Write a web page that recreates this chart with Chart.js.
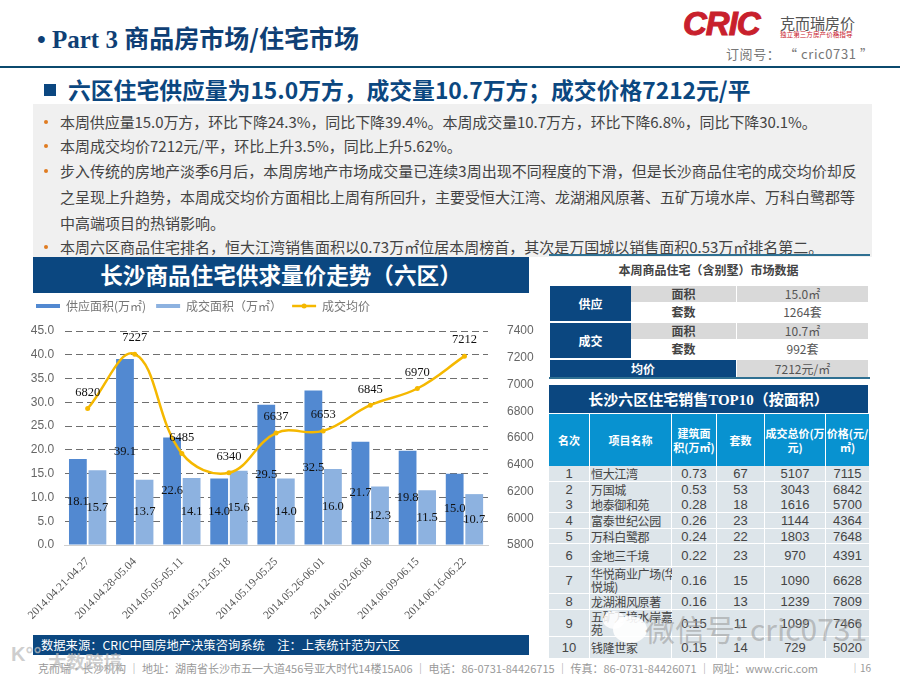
<!DOCTYPE html>
<html><head><meta charset="utf-8">
<script src="https://cdn.jsdelivr.net/npm/chart.js@4"></script>
<style>
html,body{margin:0;padding:0;background:#fff;width:900px;height:675px;overflow:hidden;font-family:"Noto Sans CJK SC","Noto Sans",sans-serif}
.a{position:absolute;white-space:nowrap}
#cw{position:absolute;left:26px;top:290px;width:514px;height:340px}
</style></head><body>
<div class="a" style="left:37px;top:19px;font:bold 25px 'Liberation Serif','Noto Sans CJK SC';color:#0f3f75">• Part 3 <span style="font-family:'Noto Sans CJK SC'">商品房市场/住宅市场</span></div>
<div class="a" style="left:683px;top:5px;font:italic 900 33px 'Liberation Sans';color:#c8202c;letter-spacing:-1px;-webkit-text-stroke:1px #c8202c">CRIC</div>
<div class="a" style="left:780px;top:12px;font:15px 'Noto Sans CJK SC';color:#555">克而瑞房价</div>
<div class="a" style="left:780px;top:29px;font:6.6px 'Noto Sans CJK SC';color:#c8202c">独立第三方房产价格指导</div>
<div class="a" style="left:726px;top:44px;font:13px 'Noto Sans CJK SC';color:#777;letter-spacing:.6px">订阅号： “ cric0731 ”</div>
<div class="a" style="left:0;top:66px;width:900px;height:2px;background:#0b4a6e"></div>
<div class="a" style="left:44px;top:84px;width:12px;height:12px;background:#0b4780"></div>
<div class="a" style="left:68px;top:73px;font:bold 22.8px 'Noto Sans CJK SC';color:#0b4780">六区住宅供应量为15.0万方，成交量10.7万方；成交价格7212元/平</div>
<div class="a" style="left:33px;top:104px;width:839px;height:153px;background:#f0f0f0"></div>
<div id="bul"></div>
<div class="a" style="left:33px;top:257px;width:496px;height:36px;background:#0b4780;color:#fff;font:bold 22.6px/36px 'Noto Sans CJK SC';text-align:center">长沙商品住宅供求量价走势（六区）</div>
<div class="a" style="left:549px;top:254px;width:321px;height:2px;background:#2f7092"></div>
<div id="cw"><canvas id="c" width="514" height="340"></canvas></div>
<div class="a" style="left:33px;top:635px;width:496px;height:20px;background:#0b4780;color:#fff;font:12.3px/20px 'Noto Sans CJK SC';text-indent:8px">数据来源：CRIC中国房地产决策咨询系统　注：上表统计范为六区</div>
<div class="a" style="left:549px;top:261px;width:319px;text-align:center;font:bold 12px 'Noto Sans CJK SC';color:#444">本周商品住宅（含别墅）市场数据</div>
<div id="t1"></div>
<div class="a" style="left:549px;top:377px;width:321px;height:2px;background:#2f7092"></div>
<div class="a" style="left:549px;top:385px;width:319px;height:28px;background:#0b4780;color:#fff;font:bold 15px/28px 'Noto Sans CJK SC';text-align:center">长沙六区住宅销售<span style="font-family:'Liberation Serif'">TOP10</span>（按面积）</div>
<div id="t2"></div>
<div class="a" style="left:38px;top:660px;font:11px 'Noto Sans CJK SC';color:#999">克而瑞·长沙机构 ｜ 地址：湖南省长沙市五一大道456号亚大时代14楼15A06 ｜ 电话：86-0731-84426715 ｜ 传真：86-0731-84426071 ｜ 网址：www.cric.com</div>
<div class="a" style="left:850px;top:660px;font:10px 'Noto Sans CJK SC';color:#999">｜16</div>
<div class="a" style="left:613px;top:616px;width:34px;height:27px;border-radius:50%;background:rgba(255,255,255,.9)"></div>
<div class="a" style="left:603px;top:611px;width:22px;height:18px;border-radius:50%;background:rgba(255,255,255,.85)"></div>
<div class="a" style="left:645px;top:606px;font:30px 'Noto Sans CJK SC';color:rgba(150,150,150,.55)">微信号: cric0731</div>
<div class="a" style="left:11px;top:643px;font:bold 20px 'Liberation Sans';color:rgba(190,190,190,.75)">K°°</div>
<div class="a" style="left:48px;top:648px;font:bold 18.5px 'Noto Sans CJK SC';color:rgba(185,185,185,.7)">大数跨境</div>
<script>
const categories=["2014.04.21-04.27","2014.04.28-05.04","2014.05.05-05.11","2014.05.12-05.18","2014.05.19-05.25","2014.05.26-06.01","2014.06.02-06.08","2014.06.09-06.15","2014.06.16-06.22"];
const supplyArea=[18.1,39.1,22.6,14.0,29.5,32.5,21.7,19.8,15.0];
const dealArea=[15.7,13.7,14.1,15.6,14.0,16.0,12.3,11.5,10.7];
const avgPrice=[6820,7227,6485,6340,6637,6653,6845,6970,7212];
const bullets=["本周供应量15.0万方，环比下降24.3%，同比下降39.4%。本周成交量10.7万方，环比下降6.8%，同比下降30.1%。","本周成交均价7212元/平，环比上升3.5%，同比上升5.62%。","步入传统的房地产淡季6月后，本周房地产市场成交量已连续3周出现不同程度的下滑，但是长沙商品住宅的成交均价却反","之呈现上升趋势，本周成交均价方面相比上周有所回升，主要受恒大江湾、龙湖湘风原著、五矿万境水岸、万科白鹭郡等","中高端项目的热销影响。","本周六区商品住宅排名，恒大江湾销售面积以0.73万㎡位居本周榜首，其次是万国城以销售面积0.53万㎡排名第二。"];
const bulletY=[122,146,171,197,223,247];
const bulletDot=[1,1,1,0,0,1];
document.getElementById('bul').innerHTML=bullets.map((t,i)=>`${bulletDot[i]?`<div class="a" style="left:44px;top:${bulletY[i]-2}px;width:4px;height:4px;border-radius:2px;background:#e07b20"></div>`:''}<div class="a" style="left:60px;top:${bulletY[i]-10}px;font:15px/20px 'Noto Sans CJK SC';color:#444;letter-spacing:${i==0?'-.08px':'0'}">${t}</div>`).join('');
const navy='#0b4780';
const t1Rows=[[286,16,"面积","15.0㎡",1],[303,18,"套数","1264套",0],[323,16,"面积","10.7㎡",1],[340,18,"套数","992套",0]];
let h='';
h+=`<div class="a" style="left:550px;top:286px;width:81px;height:35px;background:${navy};color:#fff;font:bold 12px/35px 'Noto Sans CJK SC';text-align:center">供应</div>`;
h+=`<div class="a" style="left:550px;top:323px;width:81px;height:35px;background:${navy};color:#fff;font:bold 12px/35px 'Noto Sans CJK SC';text-align:center">成交</div>`;
t1Rows.forEach(r=>{const bg=r[4]?'#d9d9d9':'#fff';
h+=`<div class="a" style="left:631px;top:${r[0]}px;width:105px;height:${r[1]}px;background:${bg};font:bold 12px/${r[1]}px 'Noto Sans CJK SC';color:#444;text-align:center">${r[2]}</div>`;
h+=`<div class="a" style="left:737px;top:${r[0]}px;width:131px;height:${r[1]}px;background:${bg};font:12px/${r[1]}px 'Noto Sans CJK SC';color:#555;text-align:center">${r[3]}</div>`;});
h+=`<div class="a" style="left:550px;top:360px;width:186px;height:17px;background:${navy};color:#fff;font:bold 12px/17px 'Noto Sans CJK SC';text-align:center">均价</div>`;
h+=`<div class="a" style="left:737px;top:360px;width:131px;height:17px;background:#d9d9d9;color:#555;font:12px/17px 'Noto Sans CJK SC';text-align:center">7212元/㎡</div>`;
document.getElementById('t1').innerHTML=h;
const colX=[549,590,672,717,765,826];const colW=[40,81,44,47,60,43];
const head=["名次","项目名称","建筑面<br>积(万㎡)","套数","成交总价(万<br>元)","价格(元/<br>㎡)"];
const rows=[["1","恒大江湾","0.73","67","5107","7115"],["2","万国城","0.53","53","3043","6842"],["3","地泰御和苑","0.28","18","1616","5700"],["4","富泰世纪公园","0.26","23","1144","4364"],["5","万科白鹭郡","0.24","22","1803","7648"],["6","金地三千境","0.22","23","970","4391"],["7","华悦商业广场(华<br>悦城)","0.16","15","1090","6628"],["8","龙湖湘风原著","0.16","13","1239","7809"],["9","五矿万境水岸嘉<br>苑","0.15","11","1099","7466"],["10","钱隆世家","0.15","14","729","5020"]];
const rowY=[466,482,497,513,529,544,567,594,610,637];const rowH=[15,15,15,15,14,22,26,15,26,21];
let g='';
head.forEach((t,c)=>{g+=`<div class="a" style="left:${colX[c]}px;top:414px;width:${colW[c]}px;height:52px;background:#0892d0;color:#fff;font:bold 11px/14px 'Noto Sans CJK SC';display:flex;align-items:center;justify-content:center;text-align:center">${t.indexOf('<br>')<0?t:`<span>${t}</span>`}</div>`});
rows.forEach((r,i)=>r.forEach((t,c)=>{const f=c==1?"12px/13px 'Noto Sans CJK SC';letter-spacing:-.35px":"13px/13px 'Liberation Sans'";
g+=`<div class="a" style="left:${colX[c]}px;top:${rowY[i]}px;width:${colW[c]}px;height:${rowH[i]}px;background:#dde5ea;color:#444;font:${f};display:flex;align-items:center;justify-content:${c==1?'flex-start':'center'};${c==1?'padding-left:1px;box-sizing:border-box;':''}"><span>${t}</span></div>`}));
document.getElementById('t2').innerHTML=g;

const valueLabels={id:'valueLabels',
 beforeLayout(ch){const lg=ch.legend;if(!lg._fixed){const f=lg.fit;lg.fit=function(){f.call(this);this.height=41;};lg._fixed=true;}},
 afterDatasetsDraw(ch){const x=ch.ctx;x.save();x.fillStyle='#111';x.font="12.5px 'Liberation Serif'";x.textAlign='center';x.textBaseline='middle';
 ch.data.datasets.forEach((d,i)=>{const m=ch.getDatasetMeta(i);m.data.forEach((el,j)=>{
  const v=d.data[j];
  if(d.type==='line'){x.fillText(String(v),el.x,el.y-16);}
  else{x.fillText(v.toFixed(1),el.x,(el.y+el.base)/2);}
 });});
 const hb=ch.legend.legendHitBoxes[2];
 if(hb){x.fillStyle='#f5b800';x.beginPath();x.arc(hb.left+12,hb.top+hb.height/2,2.5,0,Math.PI*2);x.fill();}
 x.restore();}};
new Chart(document.getElementById('c'),{
 data:{labels:categories,datasets:[
  {type:'line',label:'成交均价',data:avgPrice,yAxisID:'y1',borderColor:'#f5b800',backgroundColor:'#f5b800',borderWidth:2.5,tension:.4,pointRadius:2.5,pointBackgroundColor:'#f5b800',pointBorderWidth:0,order:0},
  {type:'bar',label:'供应面积(万㎡)',data:supplyArea,yAxisID:'y',backgroundColor:'#5289d1',categoryPercentage:.83,barPercentage:.91,order:2},
  {type:'bar',label:'成交面积（万㎡）',data:dealArea,yAxisID:'y',backgroundColor:'#8db2e0',categoryPercentage:.83,barPercentage:.91,order:2}
 ]},
 options:{responsive:false,animation:false,
  layout:{autoPadding:false,padding:0},
  plugins:{tooltip:{enabled:false},legend:{position:'top',align:'start',
    labels:{usePointStyle:true,pointStyleWidth:24,boxHeight:4,padding:10,color:'#777',font:{size:12,family:"'Noto Sans CJK SC'"},
     generateLabels(ch){const ds=ch.data.datasets;return [1,2,0].map(i=>({text:ds[i].label,datasetIndex:i,fillStyle:ds[i].backgroundColor,strokeStyle:i==0?ds[i].borderColor:ds[i].backgroundColor,lineWidth:i==0?2.5:0,pointStyle:i==0?'line':'rect',fontColor:'#777'}));}
   }}},
  scales:{
   x:{grid:{display:false},border:{color:'#d0d0d0'},ticks:{minRotation:45,maxRotation:45,color:'#555',font:{size:11.5,family:"'Liberation Serif'"},padding:2},afterFit(s){s.height=85}},
   y:{position:'left',min:0,max:45,grid:{color:c=>c.tick.value===0?'transparent':'#6f6f6f',drawTicks:false},border:{display:true,color:'transparent',dash:[7,4]},ticks:{stepSize:5,color:'#666',font:{size:12,family:"'Liberation Sans'"},padding:10,callback:v=>v.toFixed(1)},afterFit(s){s.width=37}},
   y1:{position:'right',min:5800,max:7400,grid:{display:false},border:{display:false},ticks:{stepSize:200,color:'#666',font:{size:12,family:"'Liberation Sans'"},padding:11,callback:v=>String(v)},afterFit(s){s.width=52}}
  }},
 plugins:[valueLabels]
});
</script></body></html>
